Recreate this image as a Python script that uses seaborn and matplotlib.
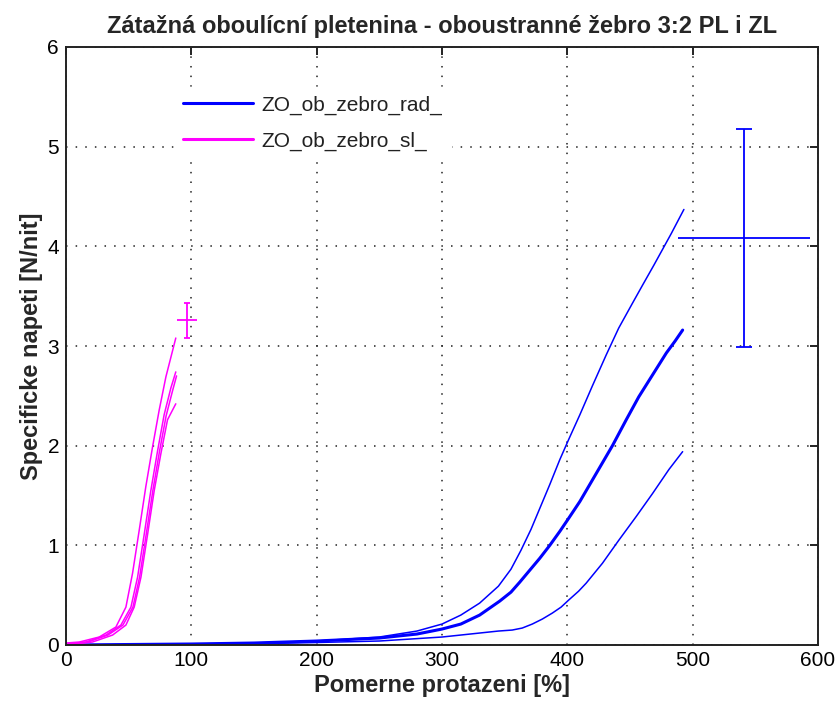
import matplotlib
matplotlib.use("Agg")
import matplotlib.pyplot as plt
from matplotlib.lines import Line2D
import seaborn as sns

# --- stress-strain curves, course direction (rad) ---
rad_x1 = [0, 50, 100, 150, 200, 250, 280, 300, 315, 330, 345, 355, 363, 371, 378, 386,
          394, 401, 410, 420, 431, 441, 452, 460, 469, 476, 483, 488, 493]
rad_y1 = [0.0, 0.005, 0.01, 0.02, 0.04, 0.08, 0.14, 0.21, 0.30, 0.42, 0.59, 0.76, 0.95,
          1.16, 1.37, 1.61, 1.86, 2.06, 2.31, 2.60, 2.91, 3.18, 3.43, 3.61, 3.81, 3.97,
          4.13, 4.25, 4.37]

rad_x2 = [0, 50, 100, 150, 200, 250, 280, 300, 315, 330, 346, 355, 362, 370, 378, 386,
          394, 401, 410, 423, 436, 447, 457, 468, 479, 486, 492]
rad_y2 = [0.0, 0.005, 0.01, 0.02, 0.04, 0.07, 0.11, 0.16, 0.21, 0.30, 0.44, 0.53, 0.63,
          0.75, 0.87, 1.00, 1.14, 1.27, 1.44, 1.72, 2.00, 2.26, 2.49, 2.71, 2.93, 3.05, 3.16]

rad_x3 = [0, 50, 100, 150, 200, 250, 300, 330, 345, 356, 364, 372, 380, 388, 395, 401,
          409, 415, 428, 441, 455, 468, 481, 492]
rad_y3 = [0.0, 0.003, 0.006, 0.012, 0.025, 0.04, 0.08, 0.12, 0.14, 0.15, 0.17, 0.21,
          0.26, 0.32, 0.38, 0.45, 0.54, 0.62, 0.82, 1.05, 1.29, 1.52, 1.76, 1.94]

# --- stress-strain curves, wale direction (sl) ---
sl_x1 = [0, 10.6, 26.5, 39.8, 47.8, 53.1, 58.4, 63.7, 69.1, 74.4, 79.7, 87.6]
sl_y1 = [0.02, 0.03, 0.08, 0.18, 0.38, 0.72, 1.15, 1.59, 1.99, 2.36, 2.69, 3.08]
sl_x2 = [0, 15.9, 31.9, 43.8, 51.8, 57.1, 62.4, 67.7, 73.1, 78.3, 83.7, 87.6]
sl_y2 = [0.01, 0.03, 0.10, 0.20, 0.38, 0.68, 1.11, 1.55, 1.95, 2.31, 2.58, 2.74]
sl_x3 = [0, 17.5, 33.5, 45.4, 53.4, 58.7, 64.0, 69.3, 74.7, 79.9, 85.0, 88.2]
sl_y3 = [0.01, 0.03, 0.10, 0.20, 0.38, 0.68, 1.11, 1.55, 1.95, 2.30, 2.55, 2.70]
sl_x4 = [0, 21.2, 37.2, 47.8, 54.4, 59.8, 65.1, 70.4, 75.7, 81.0, 87.6]
sl_y4 = [0.0, 0.03, 0.10, 0.20, 0.38, 0.68, 1.11, 1.55, 1.92, 2.26, 2.42]

# --- mean breaking point with spread ---
rad_mean_x, rad_err_x = 541, 53
rad_mean_y, rad_err_y = 4.085, 1.095
sl_mean_x, sl_err_x = 96.7, 8.2
sl_mean_y, sl_err_y = 3.26, 0.175

series_labels = ["ZO_ob_zebro_rad_", "ZO_ob_zebro_sl_"]
title_text = "Zátažná oboulícní pletenina - oboustranné žebro 3:2 PL i ZL"
x_label = "Pomerne protazeni [%]"
y_label = "Specificke napeti [N/nit]"
x_ticks = [0, 100, 200, 300, 400, 500, 600]
y_ticks = [0, 1, 2, 3, 4, 5, 6]

BLUE = "#0000FF"
MAGENTA = "#FF00FF"

sns.set_style("white")
plt.rcParams["font.family"] = ["Liberation Sans Narrow", "Liberation Sans", "DejaVu Sans"]

fig = plt.figure(figsize=(8.38, 7.02), dpi=100)
ax = fig.add_axes([66 / 838, 57 / 702, 752 / 838, 598 / 702])

for xs, ys, lw in [(rad_x1, rad_y1, 1.1), (rad_x2, rad_y2, 2.2), (rad_x3, rad_y3, 1.1)]:
    sns.lineplot(x=xs, y=ys, sort=False, estimator=None, color=BLUE, lw=lw, ax=ax)
for xs, ys in [(sl_x1, sl_y1), (sl_x2, sl_y2), (sl_x3, sl_y3), (sl_x4, sl_y4)]:
    sns.lineplot(x=xs, y=ys, sort=False, estimator=None, color=MAGENTA, lw=1.1, ax=ax)

# error crosses: capped vertical bar, plain horizontal bar
ax.errorbar(rad_mean_x, rad_mean_y, yerr=rad_err_y, color=BLUE, lw=1.3,
            capsize=5.5, capthick=1.3, fmt="none")
ax.errorbar(rad_mean_x, rad_mean_y, xerr=rad_err_x, color=BLUE, lw=1.3,
            capsize=0, fmt="none")
ax.errorbar(sl_mean_x, sl_mean_y, yerr=sl_err_y, color=MAGENTA, lw=1.3,
            capsize=2, capthick=1.3, fmt="none")
ax.errorbar(sl_mean_x, sl_mean_y, xerr=sl_err_x, color=MAGENTA, lw=1.3,
            capsize=0, fmt="none")

ax.set_xlim(0, 600)
ax.set_ylim(0, 6)
ax.set_xticks(x_ticks)
ax.set_yticks(y_ticks)
ax.set_xticklabels([str(v) for v in x_ticks])
ax.set_yticklabels([str(v) for v in y_ticks])
ax.tick_params(direction="in", top=True, right=True, length=6, width=1.4,
               labelsize=15, colors="#222222", labelcolor="black")
ax.tick_params(axis="x", pad=4)
ax.tick_params(axis="y", pad=5)
ax.grid(True, color="#222222", linestyle=(0, (1, 5.3)), linewidth=1.1)
for sp in ax.spines.values():
    sp.set_color("#222222")
    sp.set_linewidth(1.4)

ax.set_title(title_text, fontsize=17, fontweight="bold", pad=10)
ax.set_xlabel(x_label, fontsize=17, fontweight="bold", labelpad=3)
ax.set_ylabel(y_label, fontsize=17, fontweight="bold", labelpad=3)

handles = [Line2D([], [], color=BLUE, lw=2.2), Line2D([], [], color=MAGENTA, lw=2.2)]
leg = ax.legend(handles, series_labels, loc="upper left", bbox_to_anchor=(0.13, 0.95),
                frameon=True, facecolor="white", edgecolor="white", framealpha=1.0,
                fancybox=False, handlelength=3.4, handletextpad=0.4, labelspacing=0.8,
                prop={"family": ["Liberation Sans", "DejaVu Sans"], "size": 15})
for t in leg.get_texts():
    t.set_color("#222222")

fig.savefig("out.png", dpi=100, facecolor="white")
